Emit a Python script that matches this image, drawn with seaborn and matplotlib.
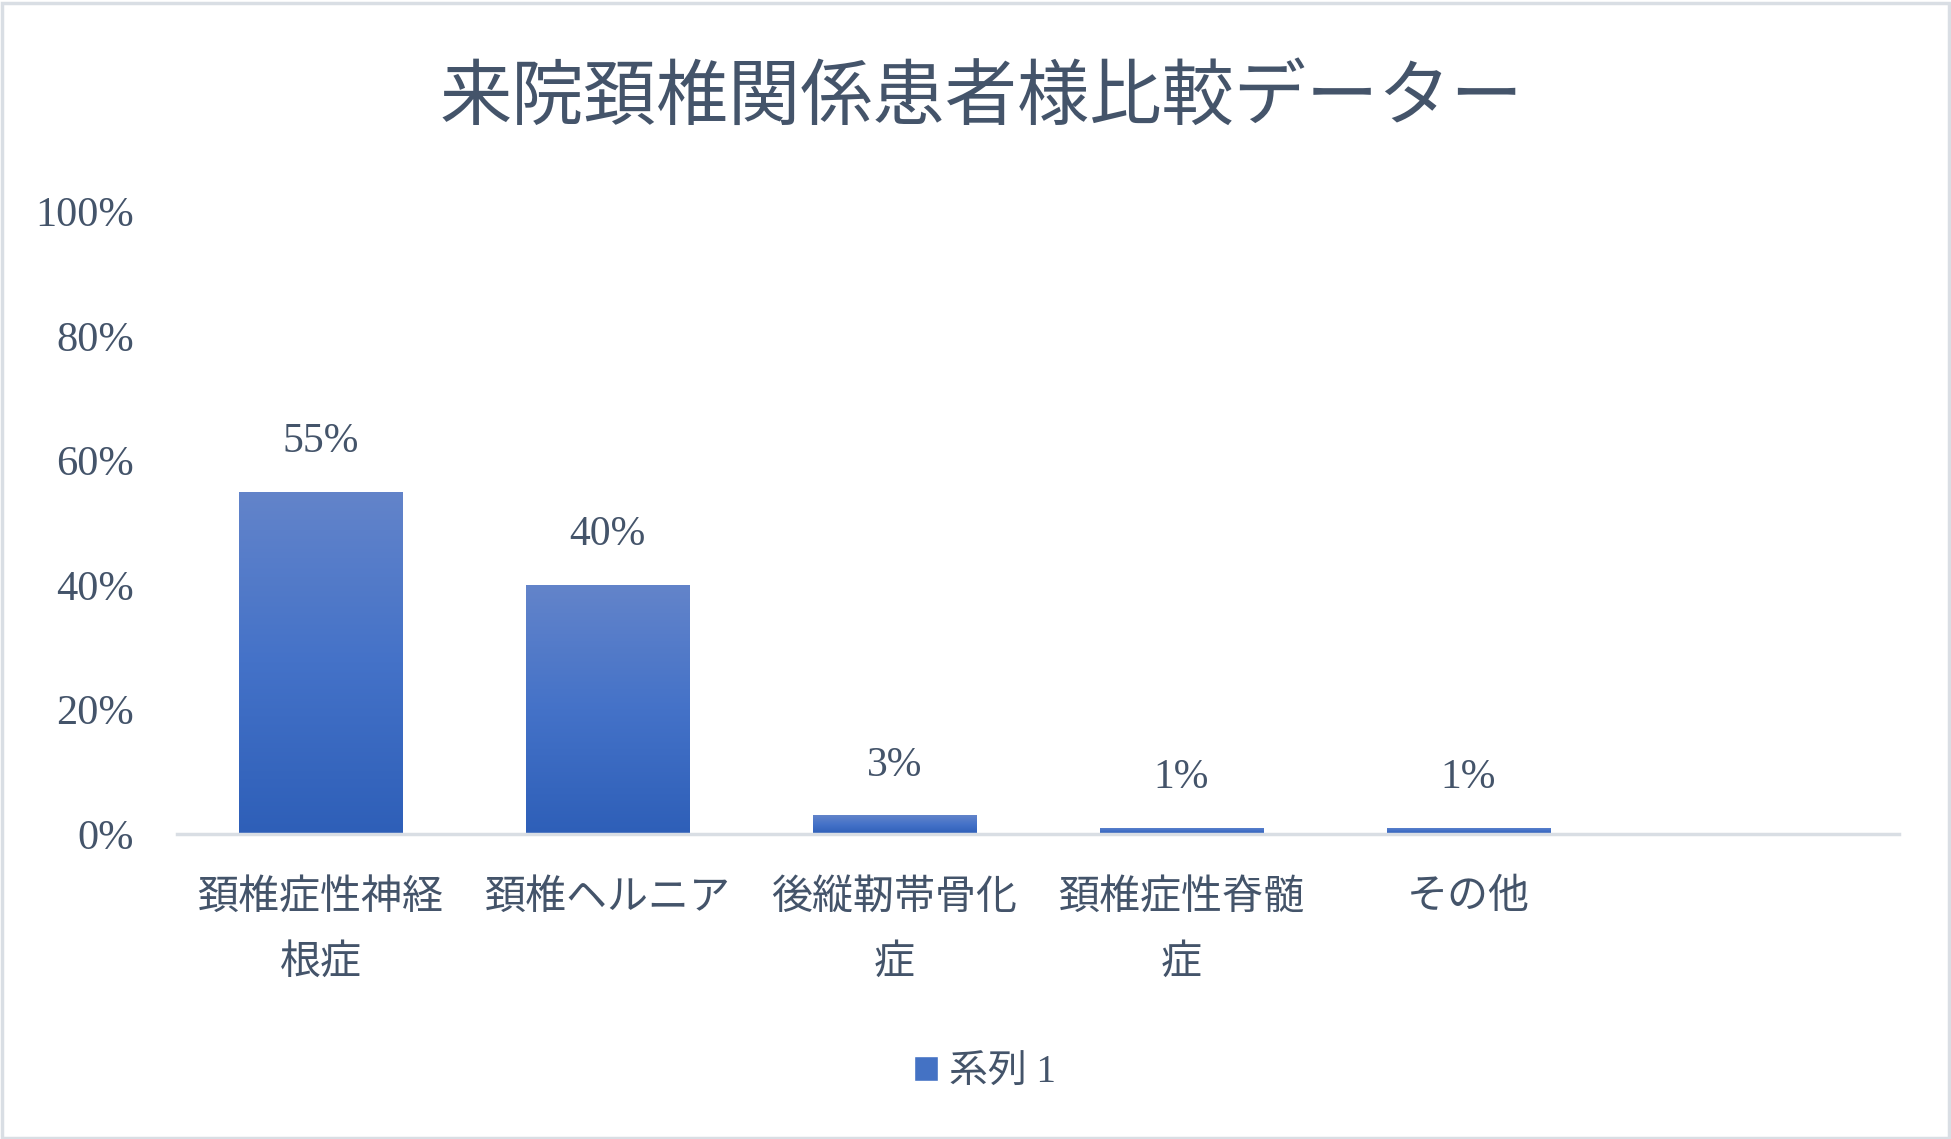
import numpy as np
import pandas as pd
import matplotlib
matplotlib.use("Agg")
import matplotlib.pyplot as plt
import matplotlib.colors as mcolors
from matplotlib.patches import Rectangle
from matplotlib.ticker import PercentFormatter, MultipleLocator
import seaborn as sns

# data
categories = ["頚椎症性神経\n根症", "頚椎ヘルニア", "後縦靭帯骨化\n症", "頚椎症性脊髄\n症", "その他"]
values = [0.55, 0.40, 0.03, 0.01, 0.01]
value_labels = ["55%", "40%", "3%", "1%", "1%"]
series_name = "系列 1"
title = "来院頚椎関係患者様比較データー"
n_slots = 6  # excel category axis leaves one empty slot on the right

df = pd.DataFrame({"category": categories, "value": values})

sns.set_theme(style="white")
plt.rcParams["font.family"] = ["Liberation Serif", "Noto Sans CJK JP", "DejaVu Sans"]

text_color = "#44546A"
axis_color = "#D9DEE4"

fig = plt.figure(figsize=(19.51, 11.39), dpi=100)
ax = fig.add_axes([0.0907, 0.2678, 0.8826, 0.5465])

sns.barplot(data=df, x="category", y="value", color="#4472C4", width=0.57,
            ax=ax, label=series_name, saturation=1)
if ax.get_legend() is not None:
    ax.get_legend().remove()

# vertical gradient on each bar, light at top, dark at bottom
grad_cmap = mcolors.LinearSegmentedColormap.from_list(
    "bar", ["#2E5FB8", "#4472C8", "#6384CA"])
grad = np.linspace(0, 1, 256).reshape(-1, 1)
for p in ax.patches:
    x0, y0 = p.get_x(), p.get_y()
    w, h = p.get_width(), p.get_height()
    im = ax.imshow(grad, cmap=grad_cmap, aspect="auto", origin="lower",
                   extent=(x0, x0 + w, y0, y0 + h), zorder=p.get_zorder() + 0.1)
    im.set_clip_path(p)

ax.set_xlim(-0.5, n_slots - 0.5)
ax.set_ylim(0, 1)

# data labels
for p, lab in zip(ax.patches, value_labels):
    ax.annotate(lab, (p.get_x() + p.get_width() / 2, p.get_height()),
                xytext=(0, 36), textcoords="offset points",
                ha="center", va="center", fontsize=30, color=text_color)

ax.yaxis.set_major_locator(MultipleLocator(0.2))
ax.yaxis.set_major_formatter(PercentFormatter(1.0, decimals=0))
ax.tick_params(axis="y", length=0, pad=31, labelsize=30.5, labelcolor=text_color)
ax.tick_params(axis="x", length=0, pad=33, labelsize=29.5, labelcolor=text_color)
for lab in ax.get_xticklabels():
    lab.set_linespacing(1.95)
    lab.set_verticalalignment("top")
ax.set_xlabel("")
ax.set_ylabel("")

for side in ["left", "right", "top"]:
    ax.spines[side].set_visible(False)
ax.spines["bottom"].set_color(axis_color)
ax.spines["bottom"].set_linewidth(2.5)

fig.suptitle(title, x=0.503, y=0.912, fontsize=52, color=text_color, va="center")

handles, labels = ax.get_legend_handles_labels()
leg = fig.legend(handles[:1], labels[:1], loc="center", bbox_to_anchor=(0.505, 0.058),
                 frameon=False, fontsize=28, handlelength=0.6, handleheight=0.6,
                 handletextpad=0.3, labelcolor=text_color)

# thin light frame around the chart area
fig.patches.append(Rectangle((0.001, 0.001), 0.998, 0.996, transform=fig.transFigure,
                             fill=False, edgecolor=axis_color, linewidth=2.5))

fig.savefig("out.png", dpi=100)
